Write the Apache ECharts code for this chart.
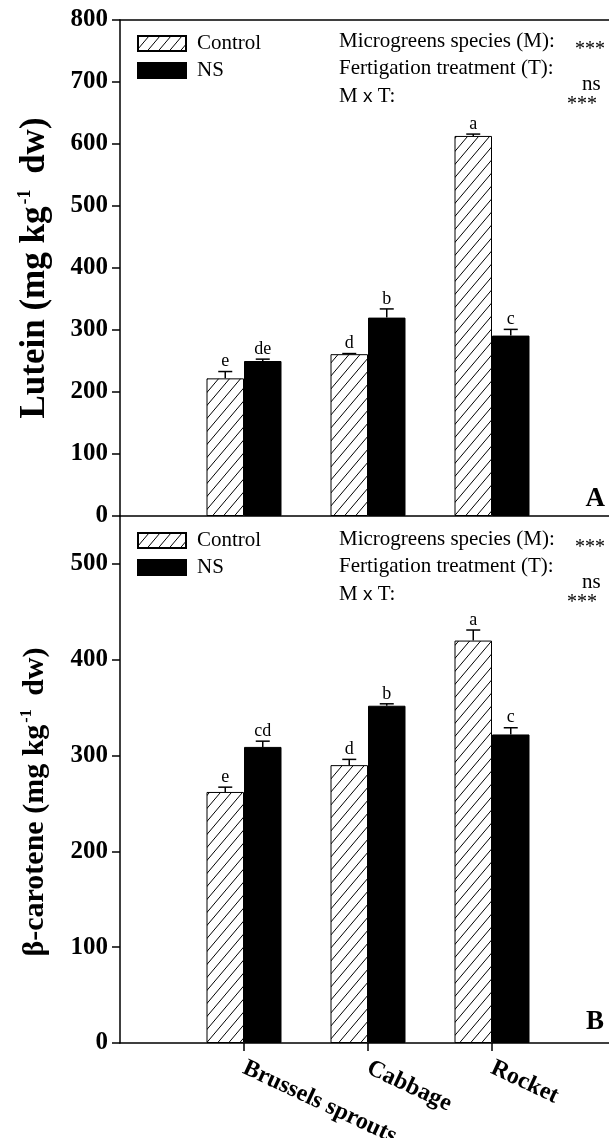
<!DOCTYPE html>
<html>
<head>
<meta charset="utf-8">
<script src="https://cdn.jsdelivr.net/npm/echarts@6/dist/echarts.min.js"></script>
<style>html,body{margin:0;padding:0;background:#fff;}#c{width:609px;height:1138px;}</style>
</head>
<body>
<div id="c"></div>
<script>
// ---------- data ----------
const species = ['Brussels sprouts', 'Cabbage', 'Rocket'];
const seriesNames = ['Control', 'NS'];

const luteinControl = [222, 261, 613];
const luteinControlErr = [11, 1, 3];
const luteinControlLetters = ['e', 'd', 'a'];
const luteinNS = [250, 320, 291];
const luteinNSErr = [3, 14, 10];
const luteinNSLetters = ['de', 'b', 'c'];

const caroteneControl = [262, 290, 420];
const caroteneControlErr = [5, 6, 11];
const caroteneControlLetters = ['e', 'd', 'a'];
const caroteneNS = [309, 352, 322];
const caroteneNSErr = [6, 2, 7];
const caroteneNSLetters = ['cd', 'b', 'c'];

const luteinTicks = [0, 800, 100];     // min, max, interval
const caroteneTicks = [0, 550, 100];

const statLabels = ['Microgreens species (M):', 'Fertigation treatment (T):', 'M x T:'];
const statSig = ['***', 'ns', '***'];
const panelLetters = ['A', 'B'];
const yTitles = ['Lutein', 'β-carotene'];

// ---------- helpers ----------
const FONT = 'Liberation Serif';
const categories = [''].concat(species, ['']);

function hatchCanvas() {
  const w = 11, h = 13;
  const c = document.createElement('canvas');
  c.width = w; c.height = h;
  const g = c.getContext('2d');
  g.fillStyle = '#fff';
  g.fillRect(0, 0, w, h);
  g.strokeStyle = '#000';
  g.lineWidth = 1;
  g.beginPath();
  g.moveTo(-w, 2 * h); g.lineTo(2 * w, -h);
  g.moveTo(-2 * w, 2 * h); g.lineTo(w, -h);
  g.moveTo(0, 2 * h); g.lineTo(3 * w, -h);
  g.stroke();
  return c;
}
const hatch = { image: hatchCanvas(), repeat: 'repeat' };

const BAR_W = 37.5;

function barData(vals) { return vals.map((v, i) => [i + 1, v]); }
function errData(vals, errs, side) {
  return vals.map((v, i) => [i + 1, v, errs[i], side]);
}

function makeErr(letters) {
  return function (params, api) {
    const x = api.value(0), top = api.value(1), err = api.value(2), side = api.value(3);
    const letter = letters[params.dataIndex];
    const p0 = api.coord([x, top]);
    const p1 = api.coord([x, top + err]);
    const cx = p0[0] + side * BAR_W / 2;
    const st = { stroke: '#000', lineWidth: 1.5 };
    return {
      type: 'group',
      children: [
        { type: 'line', shape: { x1: cx, y1: p0[1], x2: cx, y2: p1[1] }, style: st },
        { type: 'line', shape: { x1: cx - 7, y1: p1[1], x2: cx + 7, y2: p1[1] }, style: st },
        { type: 'text', style: { x: cx, y: p1[1] - 1, text: letter, fill: '#000',
            font: '18px "' + FONT + '"', textAlign: 'center', textVerticalAlign: 'bottom' } }
      ]
    };
  };
}

function yAxis(gridIndex, t) {
  return {
    type: 'value', gridIndex: gridIndex, min: t[0], max: t[1], interval: t[2],
    axisLine: { show: true, lineStyle: { color: '#000', width: 1.5 } },
    axisTick: { show: true, length: 8, lineStyle: { color: '#000', width: 1.5 } },
    axisLabel: { color: '#000', fontFamily: FONT, fontWeight: 'bold', fontSize: 25, margin: 12,
      showMaxLabel: t[1] % t[2] === 0 },
    splitLine: { show: false }
  };
}

const legendBase = {
  data: seriesNames, orient: 'vertical', left: 137, itemWidth: 48, itemHeight: 15, itemGap: 6,
  padding: 0, icon: 'rect', selectedMode: false,
  textStyle: { fontFamily: FONT, fontSize: 21, color: '#000', padding: [0, 0, 0, 6] }
};

function statGraphics(dy) {
  const base = { fontFamily: FONT, fontSize: 21, fill: '#000' };
  return [
    { type: 'text', left: 339, top: 31 + dy, style: Object.assign({ text: statLabels[0] }, base) },
    { type: 'text', left: 339, top: 58 + dy, style: Object.assign({ text: statLabels[1] }, base) },
    { type: 'text', left: 339, top: 86 + dy, style: Object.assign({ text: 'M {x|x} T:',
        rich: { x: { fontFamily: 'Liberation Sans', fontSize: 19, fill: '#000' } } }, base) },
    { type: 'text', left: 575, top: 40 + dy, style: Object.assign({ text: statSig[0] }, base, { fontSize: 20 }) },
    { type: 'text', left: 582, top: 74 + dy, style: Object.assign({ text: statSig[1] }, base) },
    { type: 'text', left: 567, top: 95 + dy, style: Object.assign({ text: statSig[2] }, base, { fontSize: 20 }) }
  ];
}

function titleGraphic(name, cx, cy, size) {
  return {
    type: 'text', x: cx, y: cy, rotation: Math.PI / 2,
    style: {
      text: name + ' (mg kg{sup|-1} dw)', fill: '#000',
      fontFamily: FONT, fontWeight: 'bold', fontSize: size,
      textAlign: 'center', textVerticalAlign: 'middle',
      rich: { sup: { fontFamily: FONT, fontWeight: 'bold', fontSize: Math.round(size * 0.52), verticalAlign: 'top',
        lineHeight: size + 3, padding: [0, Math.round(size * 0.2), 0, 2] } }
    }
  };
}

const chart = echarts.init(document.getElementById('c'), null, { renderer: 'canvas' });

const option = {
  backgroundColor: '#fff',
  animation: false,
  grid: [
    { left: 120, width: 496, top: 20, height: 496, outerBoundsMode: 'none', containLabel: false },
    { left: 120, width: 496, top: 516, height: 527, outerBoundsMode: 'none', containLabel: false }
  ],
  legend: [
    Object.assign({ top: 33 }, legendBase),
    Object.assign({ top: 530 }, legendBase)
  ],
  xAxis: [
    { type: 'category', gridIndex: 0, data: categories, boundaryGap: false, position: 'bottom',
      axisLine: { lineStyle: { color: '#000', width: 1.5 } }, axisTick: { show: false }, axisLabel: { show: false } },
    { type: 'category', gridIndex: 0, data: categories, boundaryGap: false, position: 'top',
      axisLine: { lineStyle: { color: '#000', width: 1.5 } }, axisTick: { show: false }, axisLabel: { show: false } },
    { type: 'category', gridIndex: 1, data: categories, boundaryGap: false, position: 'bottom',
      axisLine: { lineStyle: { color: '#000', width: 1.5 } },
      axisTick: { show: true, length: 8, lineStyle: { color: '#000', width: 1.5 },
        interval: function (idx, val) { return val !== ''; } },
      axisLabel: { color: '#000', fontFamily: FONT, fontWeight: 'bold', fontSize: 24, rotate: -25, margin: 24,
        interval: 0 } }
  ],
  yAxis: [yAxis(0, luteinTicks), yAxis(1, caroteneTicks)],
  graphic: [].concat(
    statGraphics(0), statGraphics(498),
    [
      { type: 'text', right: 4, top: 486, style: { text: panelLetters[0], fontFamily: FONT, fontWeight: 'bold', fontSize: 27, fill: '#000' } },
      { type: 'text', right: 5, top: 1009, style: { text: panelLetters[1], fontFamily: FONT, fontWeight: 'bold', fontSize: 27, fill: '#000' } },
      titleGraphic(yTitles[0], 35, 268, 35),
      titleGraphic(yTitles[1], 35, 802, 30)
    ]
  ),
  series: [
    { name: 'Control', type: 'bar', xAxisIndex: 0, yAxisIndex: 0, data: barData(luteinControl),
      barWidth: BAR_W, barGap: '0%', itemStyle: { color: hatch, borderColor: '#000', borderWidth: 1 } },
    { name: 'NS', type: 'bar', xAxisIndex: 0, yAxisIndex: 0, data: barData(luteinNS),
      barWidth: BAR_W, barGap: '0%', itemStyle: { color: '#000', borderColor: '#000', borderWidth: 1 } },
    { type: 'custom', xAxisIndex: 0, yAxisIndex: 0, renderItem: makeErr(luteinControlLetters), clip: false, z: 5,
      data: errData(luteinControl, luteinControlErr, -1) },
    { type: 'custom', xAxisIndex: 0, yAxisIndex: 0, renderItem: makeErr(luteinNSLetters), clip: false, z: 5,
      data: errData(luteinNS, luteinNSErr, 1) },

    { name: 'Control', type: 'bar', xAxisIndex: 2, yAxisIndex: 1, data: barData(caroteneControl),
      barWidth: BAR_W, barGap: '0%', itemStyle: { color: hatch, borderColor: '#000', borderWidth: 1 } },
    { name: 'NS', type: 'bar', xAxisIndex: 2, yAxisIndex: 1, data: barData(caroteneNS),
      barWidth: BAR_W, barGap: '0%', itemStyle: { color: '#000', borderColor: '#000', borderWidth: 1 } },
    { type: 'custom', xAxisIndex: 2, yAxisIndex: 1, renderItem: makeErr(caroteneControlLetters), clip: false, z: 5,
      data: errData(caroteneControl, caroteneControlErr, -1) },
    { type: 'custom', xAxisIndex: 2, yAxisIndex: 1, renderItem: makeErr(caroteneNSLetters), clip: false, z: 5,
      data: errData(caroteneNS, caroteneNSErr, 1) }
  ]
};
chart.setOption(option);
</script>
</body>
</html>
